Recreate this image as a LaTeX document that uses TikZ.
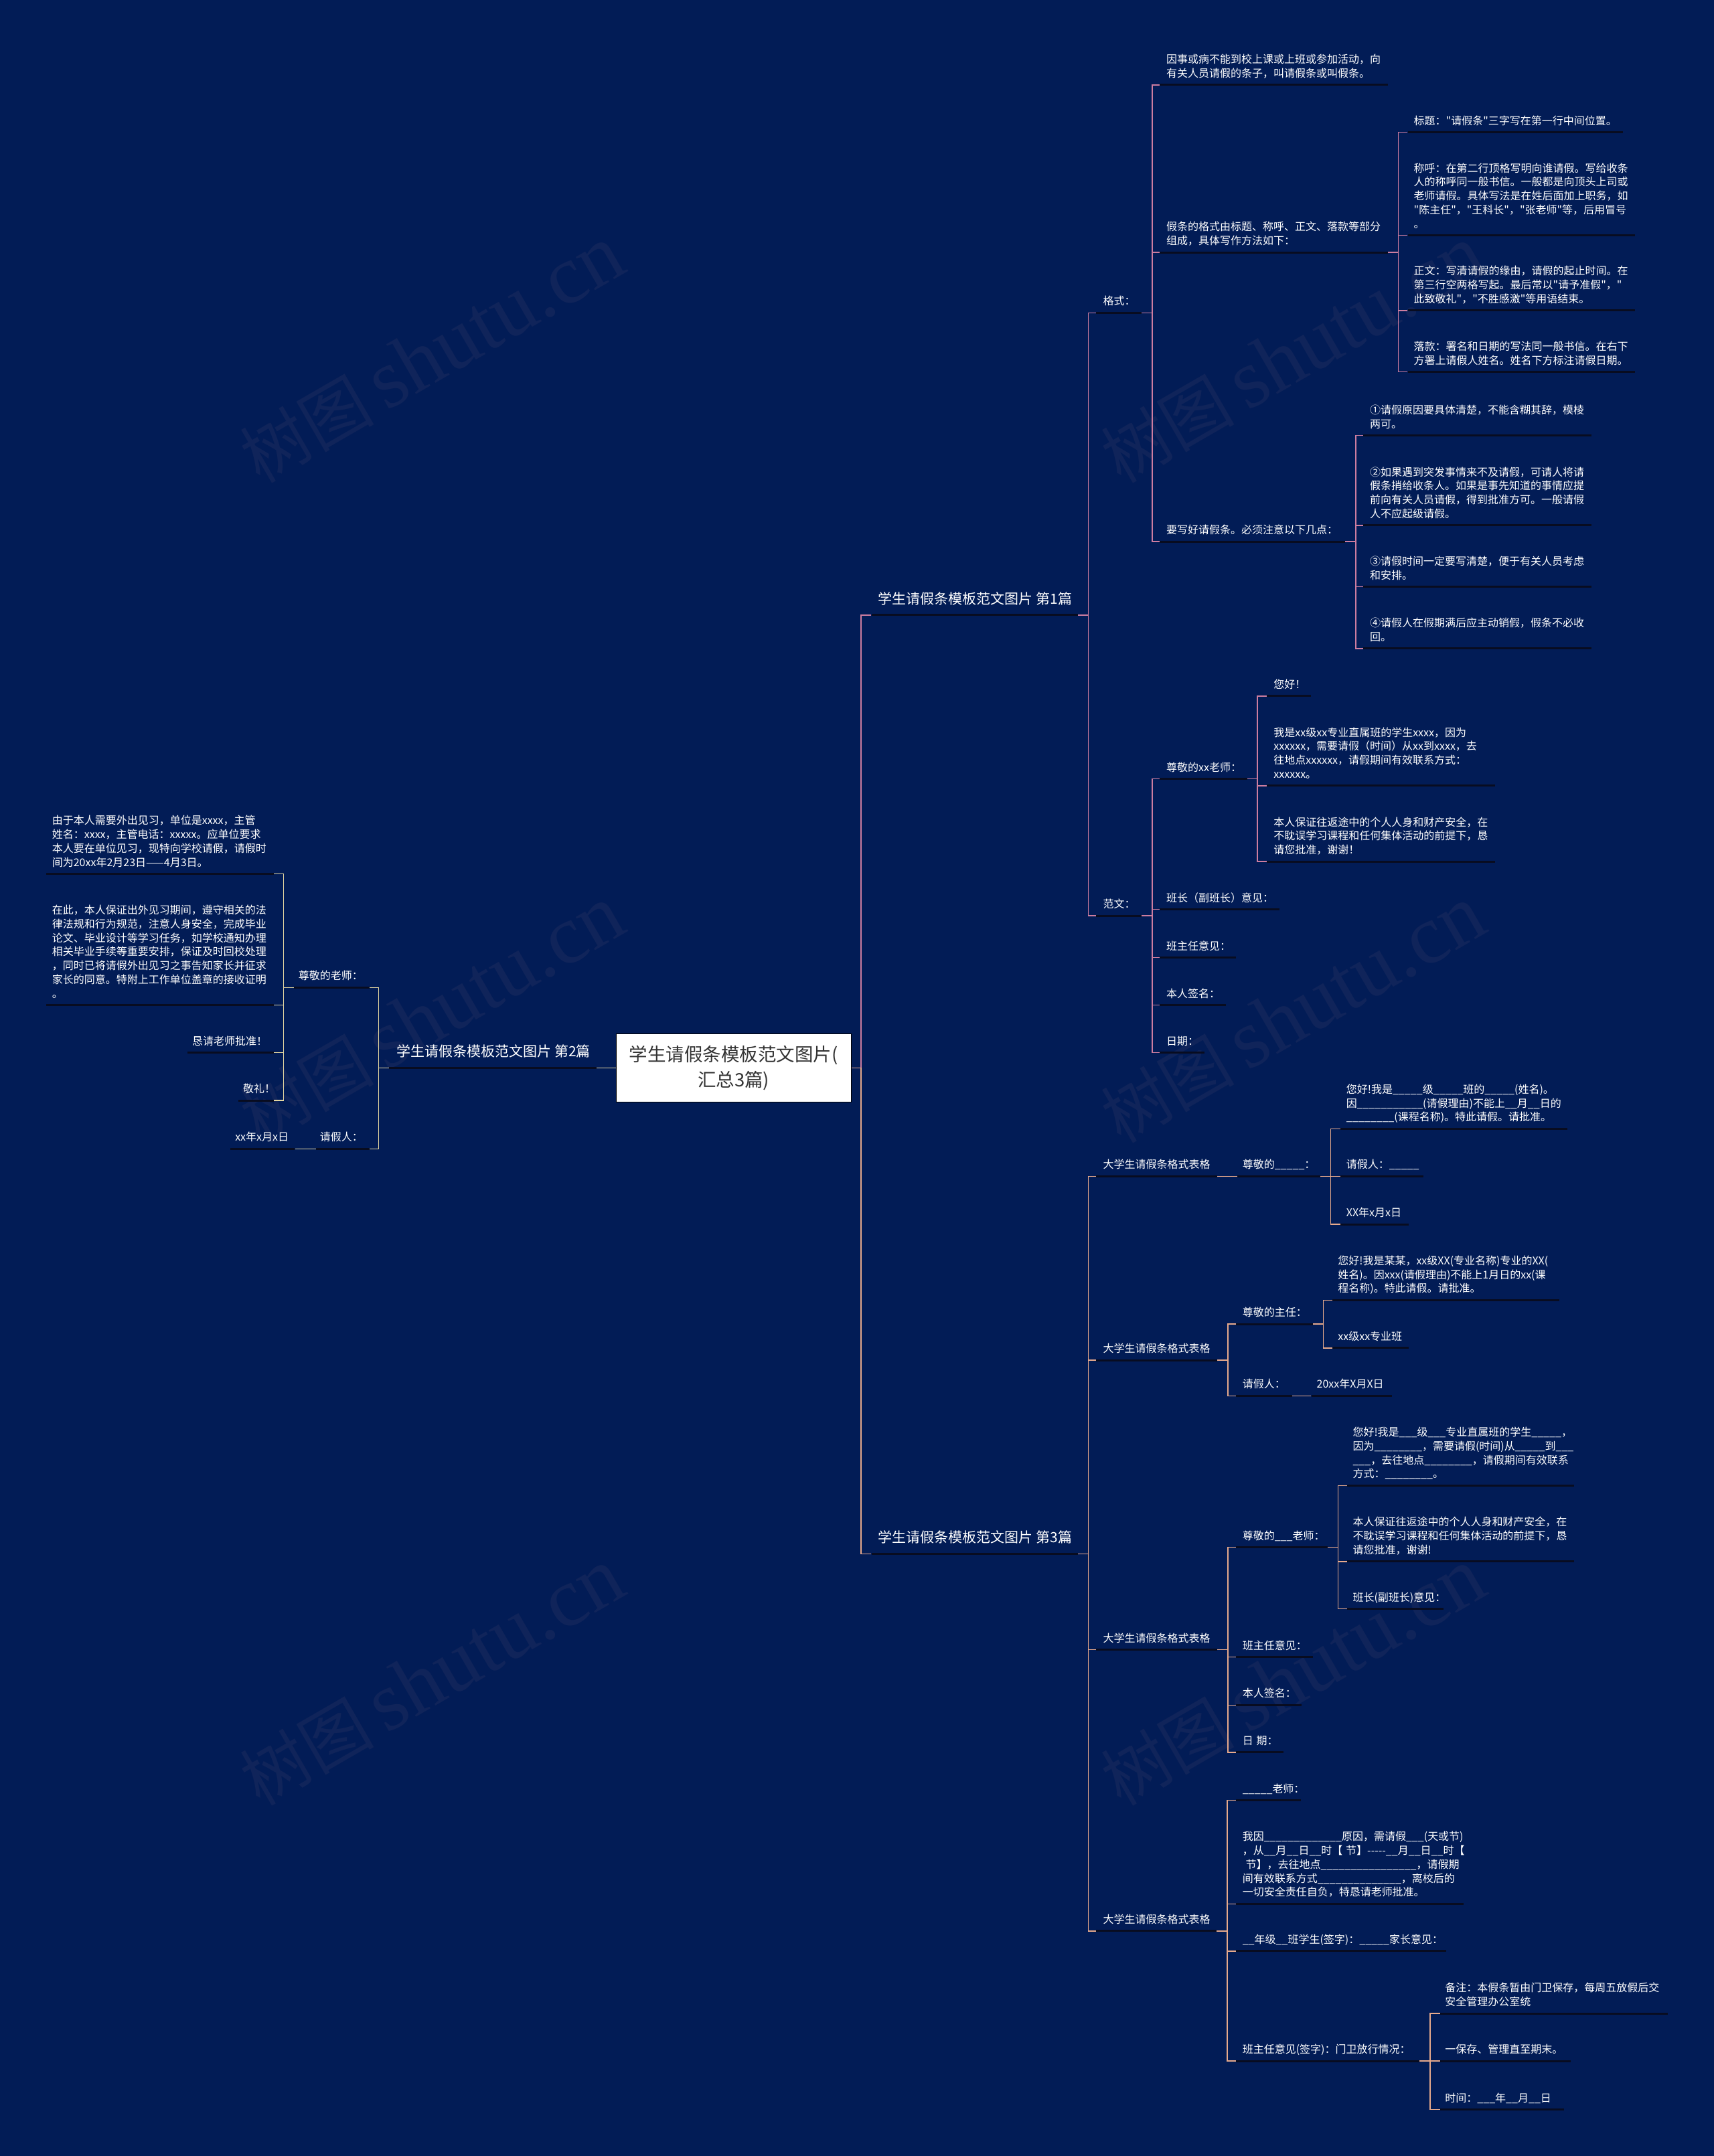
\documentclass[tikz,border=0pt]{standalone}
\usepackage{fontspec}
\setmainfont{Noto Sans CJK SC}[Ligatures=TeXOff]
\newfontfamily\wmlat{Liberation Serif}
\usetikzlibrary{calc}
\definecolor{bg}{RGB}{2,28,86}
\definecolor{ulc}{RGB}{8,12,32}
\definecolor{cA}{RGB}{205,125,160}
\definecolor{cB}{RGB}{228,214,160}
\definecolor{cC}{RGB}{232,170,140}
\definecolor{wm}{RGB}{16,36,90}
\definecolor{rootc}{RGB}{51,51,51}
\newcount\blcnt
\newcommand\blnk[1]{\blcnt=#1\relax\loop\ifnum\blcnt>0 \_\advance\blcnt by -1\relax\repeat}
\newcommand\mmnode[7][tx]{%
  \node[ul, minimum width={(#4-#3)*2.0546pt}] (#2) at (#3,#5) {};
  \node[#1, xshift={#6*2.0546pt}] (#2t) at (#3,#5) {#7\rule[-0.3em]{0pt}{1em}};}
\newcommand\conR[3]{\draw[con,#1] (#2.east) -- ++(7.5,0) |- (#3.west);}
\newcommand\conL[3]{\draw[con,#1] (#2.west) -- ++(-7.5,0) |- (#3.east);}
\begin{document}
\begin{tikzpicture}[x=2.0546pt, y=-2.0546pt,
  ul/.style={rectangle, fill=ulc, inner sep=0pt, minimum height=3pt, anchor=west},
  tx/.style={text=white, inner sep=0pt, align=left, anchor=south west, yshift=6.4pt, font=\fontsize{16}{20.8}\selectfont},
  big/.style={text=white, inner sep=0pt, align=left, anchor=south west, yshift=10.3pt, font=\fontsize{21}{26}\selectfont},
  con/.style={line width=1.5pt},
  wmk/.style={text=wm, inner sep=0pt, rotate=30}]
\fill[bg] (0,0) rectangle (1246,1568);
\useasboundingbox (0,0) rectangle (1246,1568);
% watermarks
\foreach \wx/\wy [count=\wi] in {314/258, 940/258, 314/738, 940/738, 314/1220, 940/1220}{
  \node[wmk] (wm\wi) at (\wx,\wy) {{\fontsize{100}{100}\selectfont 树图}\hspace{18pt}{\wmlat\fontsize{125}{125}\selectfont shutu.cn}};
}
% root
\node[draw=black, line width=1pt, fill=white, minimum width=171*2.0546pt, minimum height=49.5*2.0546pt,
  inner sep=0pt, align=center, text=rootc, font=\fontsize{27.5}{38.4}\selectfont] (root) at (533.4,776.75)
  {学生请假条模板范文图片(\\汇总3篇)};
% main branches
\mmnode[big]{b1}{633.5}{783.6}{447.3}{5}{学生请假条模板范文图片 第1篇}
\mmnode[big]{b3}{633.5}{783.6}{1130.2}{5}{学生请假条模板范文图片 第3篇}
\mmnode[big]{b2}{282.8}{433.7}{776.75}{5.6}{学生请假条模板范文图片 第2篇}
% branch 1
\mmnode{g1}{797}{830}{227.5}{5}{格式：}
\mmnode{g2}{797}{830}{666}{5}{范文：}
\mmnode{h1}{843}{1009}{61.8}{5}{因事或病不能到校上课或上班或参加活动，向\\有关人员请假的条子，叫请假条或叫假条。}
\mmnode{h2}{843}{1009}{183.6}{5}{假条的格式由标题、称呼、正文、落款等部分\\组成，具体写作方法如下：}
\mmnode{h3}{843}{978}{393.9}{5}{要写好请假条。必须注意以下几点：}
\mmnode{k1}{1023.4}{1180}{96.2}{4.5}{标题："请假条"三字写在第一行中间位置。}
\mmnode{k2}{1023.4}{1188.6}{171.2}{4.5}{称呼：在第二行顶格写明向谁请假。写给收条\\人的称呼同一般书信。一般都是向顶头上司或\\老师请假。具体写法是在姓后面加上职务，如\\"陈主任"，"王科长"，"张老师"等，后用冒号\\。}
\mmnode{k3}{1023.4}{1188.6}{225.8}{4.5}{正文：写清请假的缘由，请假的起止时间。在\\第三行空两格写起。最后常以"请予准假"，"\\此致敬礼"，"不胜感激"等用语结束。}
\mmnode{k4}{1023.4}{1188.6}{270.5}{4.5}{落款：署名和日期的写法同一般书信。在右下\\方署上请假人姓名。姓名下方标注请假日期。}
\mmnode{p1}{991}{1157.2}{316.7}{5}{①请假原因要具体清楚，不能含糊其辞，模棱\\两可。}
\mmnode{p2}{991}{1157.2}{382.1}{5}{②如果遇到突发事情来不及请假，可请人将请\\假条捎给收条人。如果是事先知道的事情应提\\前向有关人员请假，得到批准方可。一般请假\\人不应起级请假。}
\mmnode{p3}{991}{1157.2}{426.7}{5}{③请假时间一定要写清楚，便于有关人员考虑\\和安排。}
\mmnode{p4}{991}{1157.2}{471.6}{5}{④请假人在假期满后应主动销假，假条不必收\\回。}
\mmnode{f1}{843}{906.6}{566.4}{5}{尊敬的xx老师：}
\mmnode{f2}{843}{930.4}{661.4}{5}{班长（副班长）意见：}
\mmnode{f3}{843}{898.5}{696.4}{5}{班主任意见：}
\mmnode{f4}{843}{891.3}{730.9}{5}{本人签名：}
\mmnode{f5}{843}{875.6}{765.6}{5}{日期：}
\mmnode{q1}{921}{953}{506.2}{5}{您好！}
\mmnode{q2}{921}{1086.8}{571.4}{5}{我是xx级xx专业直属班的学生xxxx，因为\\xxxxxx，需要请假（时间）从xx到xxxx，去\\往地点xxxxxx，请假期间有效联系方式：\\xxxxxx。}
\mmnode{q3}{921}{1086.8}{626.6}{5}{本人保证往返途中的个人人身和财产安全，在\\不耽误学习课程和任何集体活动的前提下，恳\\请您批准，谢谢！}
% branch 2
\mmnode{l1}{213.7}{268.7}{718.2}{3.3}{尊敬的老师：}
\mmnode{l2}{229.7}{268.7}{835.5}{2.8}{请假人：}
\mmnode{l2a}{167.4}{214.3}{835.5}{3.5}{xx年x月x日}
\mmnode{m1}{33.6}{199}{635.5}{4.2}{由于本人需要外出见习，单位是xxxx，主管\\姓名：xxxx，主管电话：xxxxx。应单位要求\\本人要在单位见习，现特向学校请假，请假时\\间为20xx年2月23日——4月3日。}
\mmnode{m2}{33.6}{199}{731}{4.2}{在此，本人保证出外见习期间，遵守相关的法\\律法规和行为规范，注意人身安全，完成毕业\\论文、毕业设计等学习任务，如学校通知办理\\相关毕业手续等重要安排，保证及时回校处理\\，同时已将请假外出见习之事告知家长并征求\\家长的同意。特附上工作单位盖章的接收证明\\。}
\mmnode{m3}{136}{199}{765.6}{3.7}{恳请老师批准！}
\mmnode{m4}{173.3}{199}{800.3}{3.4}{敬礼！}
% branch 3
\mmnode{A1}{797}{885}{855.5}{5}{大学生请假条格式表格}
\mmnode{B1}{899.5}{959.8}{855.5}{3.8}{尊敬的\blnk{5}：}
\mmnode{C1}{974.4}{1139.7}{820.9}{4.4}{您好!我是\blnk{5}级\blnk{5}班的\blnk{5}(姓名)。\\因\blnk{11}(请假理由)不能上\blnk{2}月\blnk{2}日的\\\blnk{8}(课程名称)。特此请假。请批准。}
\mmnode{C2}{974.4}{1034.7}{855.5}{4.4}{请假人：\blnk{5}}
\mmnode{C3}{974.4}{1024}{890.4}{4.4}{XX年x月x日}
\mmnode{A2}{797}{885}{989.2}{5}{大学生请假条格式表格}
\mmnode{B2}{898.5}{954.5}{962.9}{4.8}{尊敬的主任：}
\mmnode{C4}{968.6}{1133.8}{945.5}{4.1}{您好!我是某某，xx级XX(专业名称)专业的XX(\\姓名)。因xxx(请假理由)不能上1月日的xx(课\\程名称)。特此请假。请批准。}
\mmnode{C5}{968.6}{1024}{980.3}{4.1}{xx级xx专业班}
\mmnode{B3}{898.5}{939.2}{1015.1}{4.8}{请假人：}
\mmnode{C6}{953.3}{1011.8}{1015.1}{4}{20xx年X月X日}
\mmnode{A3}{797}{885}{1199.8}{5}{大学生请假条格式表格}
\mmnode{B4}{898.5}{965.1}{1125.2}{4.8}{尊敬的\blnk{3}老师：}
\mmnode{C7}{979.3}{1144.4}{1080.4}{4.2}{您好!我是\blnk{3}级\blnk{3}专业直属班的学生\blnk{5}，\\因为\blnk{8}，需要请假(时间)从\blnk{5}到\blnk{3}\\\blnk{3}，去往地点\blnk{8}，请假期间有效联系\\方式：\blnk{8}。}
\mmnode{C8}{979.3}{1144.4}{1135.6}{4.2}{本人保证往返途中的个人人身和财产安全，在\\不耽误学习课程和任何集体活动的前提下，恳\\请您批准，谢谢!}
\mmnode{C9}{979.3}{1049.6}{1170.1}{4.2}{班长(副班长)意见：}
\mmnode{B5}{898.5}{954.5}{1205.1}{4.8}{班主任意见：}
\mmnode{B6}{898.5}{946.2}{1240}{4.8}{本人签名：}
\mmnode{B7}{898.5}{933.3}{1274.4}{4.8}{日\hspace{0.3em}期：}
\mmnode{A4}{797}{884.5}{1404.3}{5}{大学生请假条格式表格}
\mmnode{B8}{898.5}{945.7}{1309.2}{4.8}{\blnk{5}老师：}
\mmnode{B9}{898.5}{1064.2}{1384.6}{4.8}{我因\blnk{13}原因，需请假\blnk{3}(天或节)\\，从\blnk{2}月\blnk{2}日\blnk{2}时【\hspace{0.3em}节】-----\blnk{2}月\blnk{2}日\blnk{2}时【\\\hspace{0.3em}节】，去往地点\blnk{16}，请假期\\间有效联系方式\blnk{14}，离校后的\\一切安全责任自负，特恳请老师批准。}
\mmnode{B10}{898.5}{1051.3}{1419}{4.8}{\blnk{2}年级\blnk{2}班学生(签字)：\blnk{5}家长意见：}
\mmnode{B11}{898.5}{1032}{1498.9}{4.8}{班主任意见(签字)：门卫放行情况：}
\mmnode{C10}{1047}{1212.4}{1464.3}{3.6}{备注：本假条暂由门卫保存，每周五放假后交\\安全管理办公室统}
\mmnode{C11}{1047}{1141.8}{1498.9}{3.6}{一保存、管理直至期末。}
\mmnode{C12}{1047}{1137.3}{1534.1}{3.6}{时间：\blnk{3}年\blnk{2}月\blnk{2}日}
% connectors: root
\draw[con,cA] (root.east) -- ++(7,0) |- (b1.west);
\draw[con,cC] (root.east) -- ++(7,0) |- (b3.west);
\draw[con,cB] (root.west) -- (b2.east);
% branch 1
\conR{cA}{b1}{g1} \conR{cA}{b1}{g2}
\conR{cA}{g1}{h1} \conR{cA}{g1}{h2} \conR{cA}{g1}{h3}
\conR{cA}{h2}{k1} \conR{cA}{h2}{k2} \conR{cA}{h2}{k3} \conR{cA}{h2}{k4}
\conR{cA}{h3}{p1} \conR{cA}{h3}{p2} \conR{cA}{h3}{p3} \conR{cA}{h3}{p4}
\conR{cA}{g2}{f1} \conR{cA}{g2}{f2} \conR{cA}{g2}{f3} \conR{cA}{g2}{f4} \conR{cA}{g2}{f5}
\conR{cA}{f1}{q1} \conR{cA}{f1}{q2} \conR{cA}{f1}{q3}
% branch 2
\conL{cB}{b2}{l1} \conL{cB}{b2}{l2}
\conL{cB}{l1}{m1} \conL{cB}{l1}{m2} \conL{cB}{l1}{m3} \conL{cB}{l1}{m4}
\conL{cB}{l2}{l2a}
% branch 3
\conR{cC}{b3}{A1} \conR{cC}{b3}{A2} \conR{cC}{b3}{A3} \conR{cC}{b3}{A4}
\conR{cC}{A1}{B1}
\conR{cC}{B1}{C1} \conR{cC}{B1}{C2} \conR{cC}{B1}{C3}
\conR{cC}{A2}{B2} \conR{cC}{A2}{B3}
\conR{cC}{B2}{C4} \conR{cC}{B2}{C5}
\conR{cC}{B3}{C6}
\conR{cC}{A3}{B4} \conR{cC}{A3}{B5} \conR{cC}{A3}{B6} \conR{cC}{A3}{B7}
\conR{cC}{B4}{C7} \conR{cC}{B4}{C8} \conR{cC}{B4}{C9}
\conR{cC}{A4}{B8} \conR{cC}{A4}{B9} \conR{cC}{A4}{B10} \conR{cC}{A4}{B11}
\conR{cC}{B11}{C10} \conR{cC}{B11}{C11} \conR{cC}{B11}{C12}
\end{tikzpicture}
\end{document}
